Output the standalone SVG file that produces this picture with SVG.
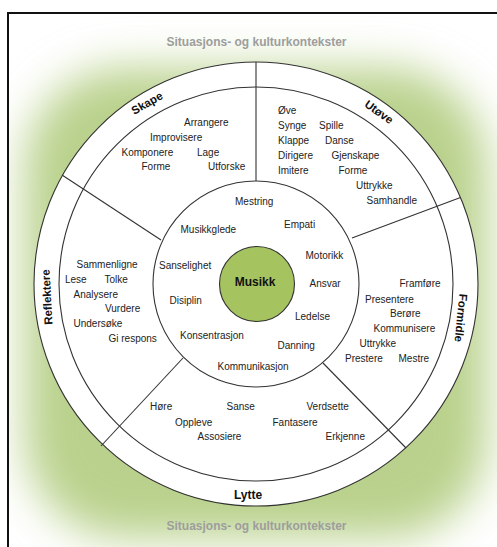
<svg xmlns="http://www.w3.org/2000/svg" width="497" height="547" viewBox="0 0 497 547">
<style>
.w{font-family:"Liberation Sans",Arial,sans-serif;font-size:10px;fill:#222}
.lab{font-family:"Liberation Sans",Arial,sans-serif;font-size:11.5px;font-weight:bold;fill:#111}
.ctx{font-family:"Liberation Sans",Arial,sans-serif;font-size:12px;font-weight:bold;fill:#9d9d9d}
.ring{fill:none;stroke:#333;stroke-width:1.1}
.div{stroke:#333;stroke-width:1.1;fill:none}
</style>
<defs>
<filter id="soft" x="-30%" y="-30%" width="160%" height="160%"><feGaussianBlur stdDeviation="22"/></filter>
<clipPath id="frameclip"><rect x="9" y="14" width="500" height="540"/></clipPath>
</defs>
<rect x="0" y="0" width="497" height="547" fill="#fff"/>
<g clip-path="url(#frameclip)">
<rect x="25" y="68" width="462" height="470" rx="100" fill="#b9d18c" filter="url(#soft)"/>
</g>
<path d="M8,548 V13 H498" fill="none" stroke="#111" stroke-width="2"/>
<text class="ctx" x="256.5" y="46" text-anchor="middle">Situasjons- og kulturkontekster</text>
<text class="ctx" x="256.5" y="530" text-anchor="middle">Situasjons- og kulturkontekster</text>

<g id="outer-ring">
<circle cx="256" cy="284" r="222" fill="#fff" stroke="#333" stroke-width="1.1"/>
<circle class="ring" cx="256" cy="284" r="197"/>
</g>
<g id="middle-ring">
<circle class="ring" cx="256" cy="284" r="103"/>
</g>

<g id="connectors">
<line class="div" x1="256" y1="181" x2="256" y2="62"/>
<line class="div" x1="352" y1="238" x2="460.5" y2="197.5"/>
<line class="div" x1="323" y1="363" x2="406" y2="448"/>
<line class="div" x1="183" y1="358" x2="101" y2="446"/>
<line class="div" x1="161" y1="240" x2="62" y2="175"/>
</g>

<g id="musikk">
<circle cx="257" cy="284" r="37.5" fill="#a5c460" stroke="#333" stroke-width="1.1"/>
<text class="lab" x="255" y="286" font-size="12" text-anchor="middle" style="font-size:12px">Musikk</text>
</g>

<g id="inner-values">
<text class="w" x="235" y="205">Mestring</text>
<text class="w" x="284" y="227.5">Empati</text>
<text class="w" x="180.5" y="232.5">Musikkglede</text>
<text class="w" x="305.5" y="258.5">Motorikk</text>
<text class="w" x="159" y="269">Sanselighet</text>
<text class="w" x="309.5" y="287">Ansvar</text>
<text class="w" x="169.5" y="304">Disiplin</text>
<text class="w" x="295" y="320">Ledelse</text>
<text class="w" x="180" y="338.5">Konsentrasjon</text>
<text class="w" x="277.5" y="349">Danning</text>
<text class="w" x="217.5" y="370">Kommunikasjon</text>
</g>

<g id="skape">
<text class="lab" transform="translate(147,103) rotate(-30)" y="4" text-anchor="middle">Skape</text>
<text class="w" x="184" y="126">Arrangere</text>
<text class="w" x="150" y="141">Improvisere</text>
<text class="w" x="121.5" y="155.5">Komponere</text>
<text class="w" x="197" y="155.5">Lage</text>
<text class="w" x="141.5" y="170">Forme</text>
<text class="w" x="208" y="170">Utforske</text>
</g>

<g id="utove">
<text class="lab" transform="translate(379,112) rotate(35.5)" y="4" text-anchor="middle">Utøve</text>
<text class="w" x="278" y="114">Øve</text>
<text class="w" x="278" y="129">Synge</text>
<text class="w" x="319" y="129">Spille</text>
<text class="w" x="278" y="144">Klappe</text>
<text class="w" x="325" y="144">Danse</text>
<text class="w" x="278" y="158.5">Dirigere</text>
<text class="w" x="331.5" y="158.5">Gjenskape</text>
<text class="w" x="278" y="173.5">Imitere</text>
<text class="w" x="338.5" y="173.5">Forme</text>
<text class="w" x="356" y="188.5">Uttrykke</text>
<text class="w" x="366.5" y="203.5">Samhandle</text>
</g>

<g id="formidle">
<text class="lab" transform="translate(461,318) rotate(96)" y="4" text-anchor="middle">Formidle</text>
<text class="w" x="399.5" y="287">Framføre</text>
<text class="w" x="365" y="302.5">Presentere</text>
<text class="w" x="390" y="317">Berøre</text>
<text class="w" x="373.5" y="332">Kommunisere</text>
<text class="w" x="359.5" y="347">Uttrykke</text>
<text class="w" x="345" y="362">Prestere</text>
<text class="w" x="398.5" y="362">Mestre</text>
</g>

<g id="lytte">
<text class="lab" x="248" y="499" text-anchor="middle" style="font-size:12px">Lytte</text>
<text class="w" x="150" y="410">Høre</text>
<text class="w" x="226.5" y="410">Sanse</text>
<text class="w" x="306.5" y="410">Verdsette</text>
<text class="w" x="175" y="425.5">Oppleve</text>
<text class="w" x="272.5" y="425.5">Fantasere</text>
<text class="w" x="197.5" y="440">Assosiere</text>
<text class="w" x="325.5" y="440">Erkjenne</text>
</g>

<g id="reflektere">
<text class="lab" transform="translate(47,297) rotate(-93)" y="4" text-anchor="middle">Reflektere</text>
<text class="w" x="76.5" y="267.5">Sammenligne</text>
<text class="w" x="65" y="282.5">Lese</text>
<text class="w" x="104.5" y="282.5">Tolke</text>
<text class="w" x="73.5" y="297.5">Analysere</text>
<text class="w" x="105" y="312">Vurdere</text>
<text class="w" x="73.5" y="327">Undersøke</text>
<text class="w" x="108.5" y="342">Gi respons</text>
</g>
</svg>
